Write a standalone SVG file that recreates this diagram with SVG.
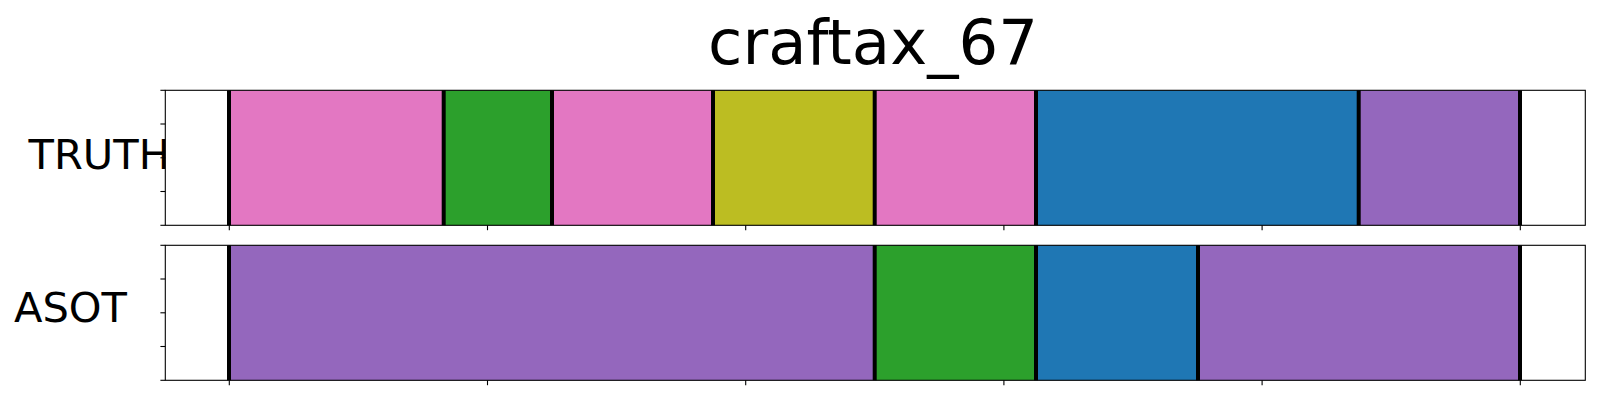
<svg xmlns="http://www.w3.org/2000/svg" width="1600" height="400" viewBox="0 0 1600 400">
<style>
text{font-family:"DejaVu Sans","Liberation Sans",sans-serif;fill:#000}
.title{font-size:62.5px}
.lab{font-size:41.6px}
.frame{fill:none;stroke:#000;stroke-width:1.1}
.seg{stroke:none}
.b{stroke:#000;stroke-width:4}
.tk{stroke:#000;stroke-width:1.1}
.pink{fill:#e377c2}.green{fill:#2ca02c}.olive{fill:#bcbd22}.blue{fill:#1f77b4}.purple{fill:#9467bd}
</style>
<rect width="1600" height="400" fill="#fff"/>
<g id="title"><text class="title" x="873" y="63.5" text-anchor="middle">craftax_67</text></g>
<g id="truth">
<text class="lab" x="28.5" y="169">TRUTH</text>
<rect x="165.3" y="90.3" width="1420" height="135" fill="#fff"/>
<rect class="seg pink" x="229" y="90.3" width="214.7" height="135"/>
<rect class="seg green" x="443.7" y="90.3" width="108.3" height="135"/>
<rect class="seg pink" x="552" y="90.3" width="161" height="135"/>
<rect class="seg olive" x="713" y="90.3" width="161.7" height="135"/>
<rect class="seg pink" x="874.7" y="90.3" width="161.3" height="135"/>
<rect class="seg blue" x="1036" y="90.3" width="322.7" height="135"/>
<rect class="seg purple" x="1358.7" y="90.3" width="161.3" height="135"/>
<g class="b">
<line x1="229" y1="90.3" x2="229" y2="225.3"/>
<line x1="443.7" y1="90.3" x2="443.7" y2="225.3"/>
<line x1="552" y1="90.3" x2="552" y2="225.3"/>
<line x1="713" y1="90.3" x2="713" y2="225.3"/>
<line x1="874.7" y1="90.3" x2="874.7" y2="225.3"/>
<line x1="1036" y1="90.3" x2="1036" y2="225.3"/>
<line x1="1358.7" y1="90.3" x2="1358.7" y2="225.3"/>
<line x1="1520" y1="90.3" x2="1520" y2="225.3"/>
</g>
<rect class="frame" x="165.3" y="90.3" width="1420" height="135"/>
<g class="tk">
<line x1="160.4" y1="90.3" x2="165.3" y2="90.3"/>
<line x1="160.4" y1="124" x2="165.3" y2="124"/>
<line x1="160.4" y1="157.8" x2="165.3" y2="157.8"/>
<line x1="160.4" y1="191.5" x2="165.3" y2="191.5"/>
<line x1="160.4" y1="225.3" x2="165.3" y2="225.3"/>
<line x1="229.3" y1="225.3" x2="229.3" y2="230.2"/>
<line x1="487.5" y1="225.3" x2="487.5" y2="230.2"/>
<line x1="745.7" y1="225.3" x2="745.7" y2="230.2"/>
<line x1="1003.9" y1="225.3" x2="1003.9" y2="230.2"/>
<line x1="1262.1" y1="225.3" x2="1262.1" y2="230.2"/>
<line x1="1520.3" y1="225.3" x2="1520.3" y2="230.2"/>
</g>
</g>
<g id="asot">
<text class="lab" x="14" y="322">ASOT</text>
<rect x="165.3" y="245.3" width="1420" height="135" fill="#fff"/>
<rect class="seg purple" x="229" y="245.3" width="645.7" height="135"/>
<rect class="seg green" x="874.7" y="245.3" width="161.3" height="135"/>
<rect class="seg blue" x="1036" y="245.3" width="162" height="135"/>
<rect class="seg purple" x="1198" y="245.3" width="322" height="135"/>
<g class="b">
<line x1="229" y1="245.3" x2="229" y2="380.3"/>
<line x1="874.7" y1="245.3" x2="874.7" y2="380.3"/>
<line x1="1036" y1="245.3" x2="1036" y2="380.3"/>
<line x1="1198" y1="245.3" x2="1198" y2="380.3"/>
<line x1="1520" y1="245.3" x2="1520" y2="380.3"/>
</g>
<rect class="frame" x="165.3" y="245.3" width="1420" height="135"/>
<g class="tk">
<line x1="160.4" y1="245.3" x2="165.3" y2="245.3"/>
<line x1="160.4" y1="279" x2="165.3" y2="279"/>
<line x1="160.4" y1="312.8" x2="165.3" y2="312.8"/>
<line x1="160.4" y1="346.5" x2="165.3" y2="346.5"/>
<line x1="160.4" y1="380.3" x2="165.3" y2="380.3"/>
<line x1="229.3" y1="380.3" x2="229.3" y2="385.2"/>
<line x1="487.5" y1="380.3" x2="487.5" y2="385.2"/>
<line x1="745.7" y1="380.3" x2="745.7" y2="385.2"/>
<line x1="1003.9" y1="380.3" x2="1003.9" y2="385.2"/>
<line x1="1262.1" y1="380.3" x2="1262.1" y2="385.2"/>
<line x1="1520.3" y1="380.3" x2="1520.3" y2="385.2"/>
</g>
</g>
</svg>
